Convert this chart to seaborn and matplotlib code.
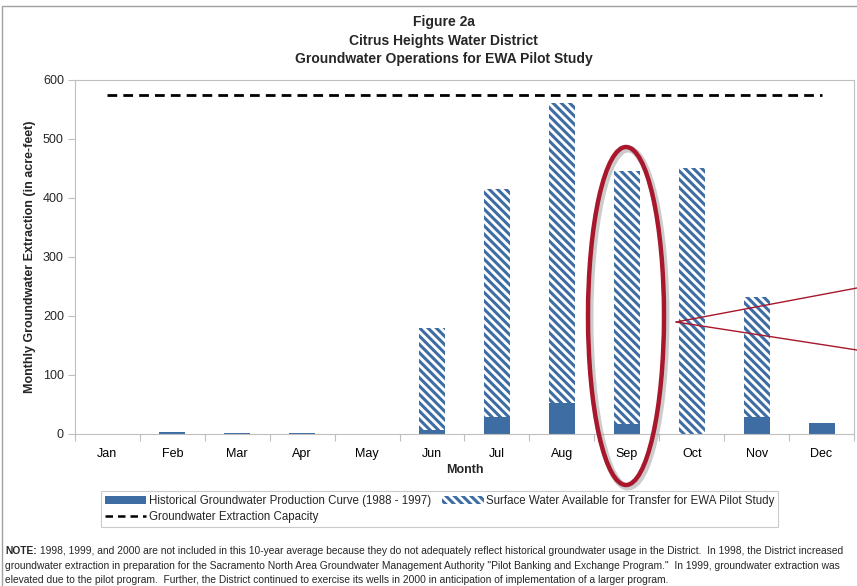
import numpy as np
import pandas as pd
import seaborn as sns
import matplotlib.pyplot as plt
from matplotlib.patches import Ellipse, Patch
from matplotlib.lines import Line2D

months = ['Jan', 'Feb', 'Mar', 'Apr', 'May', 'Jun', 'Jul', 'Aug', 'Sep', 'Oct', 'Nov', 'Dec']
historical = [0, 3, 2, 2, 0, 7, 29, 53, 17, 0, 29, 18]
surface_water = [0, 0, 0, 0, 0, 173, 387, 508, 428, 450, 203, 0]
capacity = [575] * 12

BLUE = '#3E6DA3'
RED = '#A8172B'
HATCH = '\\' * 4

sns.set_theme(style='white')
plt.rcParams['font.family'] = ['Liberation Sans', 'DejaVu Sans']
plt.rcParams['hatch.linewidth'] = 2.2

df = pd.DataFrame({'Month': months,
                   'Historical': historical,
                   'Total': np.array(historical) + np.array(surface_water)})

fig = plt.figure(figsize=(8.57, 5.86), dpi=100)
ax = fig.add_axes([0.0875, 0.2594, 0.909, 0.6041])

# stacked bars: hatched total behind, solid historical on top
sns.barplot(data=df, x='Month', y='Total', color='white', width=0.4,
            saturation=1, ax=ax, edgecolor=BLUE, linewidth=0, hatch=HATCH)
sns.barplot(data=df, x='Month', y='Historical', color=BLUE, width=0.4,
            saturation=1, ax=ax, linewidth=0)
sns.lineplot(x=np.arange(12), y=capacity, color='black', linewidth=2,
             linestyle=(0, (3.5, 2.2)), ax=ax)

ax.set_xlim(-0.5, 11.5)
ax.set_ylim(0, 600)
ax.set_yticks(range(0, 601, 100))
ax.set_xticks(np.arange(-0.5, 12, 1), minor=True)
ax.tick_params(axis='x', which='major', length=0, labelsize=9, pad=10, colors='black')
ax.tick_params(axis='x', which='minor', length=5, color='#BFBFBF', width=0.8, bottom=True)
ax.tick_params(axis='y', length=5, color='#BFBFBF', width=0.8, labelsize=9, left=True, pad=3)
for s in ax.spines.values():
    s.set_color('#BFBFBF')
    s.set_linewidth(0.8)
ax.set_xlabel('Month', fontsize=9, fontweight='bold', labelpad=3)
ax.set_ylabel('Monthly Groundwater Extraction (in acre-feet)', fontsize=9,
              fontweight='bold', labelpad=5)

fig.text(0.518, 0.962, 'Figure 2a', ha='center', va='center', fontsize=10, fontweight='bold')
fig.text(0.518, 0.93, 'Citrus Heights Water District', ha='center', va='center',
         fontsize=10, fontweight='bold')
fig.text(0.518, 0.899, 'Groundwater Operations for EWA Pilot Study', ha='center',
         va='center', fontsize=10, fontweight='bold')

handles = [Patch(facecolor=BLUE, edgecolor=BLUE, linewidth=0),
           Line2D([0], [0], color='black', linewidth=1.8, linestyle=(0, (3, 2))),
           Patch(facecolor='white', edgecolor=BLUE, linewidth=0, hatch=HATCH)]
labels = ['Historical Groundwater Production Curve (1988 - 1997)',
          'Groundwater Extraction Capacity',
          'Surface Water Available for Transfer for EWA Pilot Study']
leg = fig.legend(handles, labels, loc='center', bbox_to_anchor=(0.513, 0.131), ncol=2,
                 fontsize=8.3, frameon=True, fancybox=False, edgecolor='#BFBFBF',
                 handlelength=3.6, handleheight=0.6, handletextpad=0.2,
                 columnspacing=1.0, borderpad=0.35, labelspacing=0.35)
leg.get_frame().set_linewidth(0.8)

# annotation: red ellipse around Sep and pointer lines
W, H = 857, 586
sh = Ellipse((628 / W, 1 - 318 / H), 76 / W, 338 / H, transform=fig.transFigure,
             fill=False, edgecolor='#9A9A9A', linewidth=5, alpha=0.5, zorder=9)
el = Ellipse((626 / W, 1 - 316 / H), 76 / W, 338 / H, transform=fig.transFigure,
             fill=False, edgecolor=RED, linewidth=3.2, zorder=10)
fig.add_artist(sh)
fig.add_artist(el)
fig.add_artist(Line2D([676 / W, 1.0], [1 - 322 / H, 1 - 288 / H],
                      transform=fig.transFigure, color=RED, linewidth=1))
fig.add_artist(Line2D([676 / W, 1.0], [1 - 322 / H, 1 - 350 / H],
                      transform=fig.transFigure, color=RED, linewidth=1))

# note text below the chart
fig.canvas.draw()
r = fig.canvas.get_renderer()
fs = 7.35
note = fig.text(5 / W, 1 - 551 / H, 'NOTE:', fontsize=fs, fontweight='bold', va='center')
bb = note.get_window_extent(r)
fig.text((bb.x1 + 3) / W, 1 - 551 / H,
         '1998, 1999, and 2000 are not included in this 10-year average because they do not '
         'adequately reflect historical groundwater usage in the District.  In 1998, the District increased',
         fontsize=fs, va='center')
fig.text(5 / W, 1 - 566 / H,
         'groundwater extraction in preparation for the Sacramento North Area Groundwater Management '
         'Authority "Pilot Banking and Exchange Program."  In 1999, groundwater extraction was',
         fontsize=fs, va='center')
fig.text(5 / W, 1 - 580 / H,
         'elevated due to the pilot program.  Further, the District continued to exercise its wells '
         'in 2000 in anticipation of implementation of a larger program.',
         fontsize=fs, va='center')

fig.add_artist(plt.Rectangle((0.002, -0.01), 1.1, 1.0, transform=fig.transFigure,
                             fill=False, edgecolor='#A0A0A0', linewidth=1))

fig.savefig('out.png', dpi=100)
